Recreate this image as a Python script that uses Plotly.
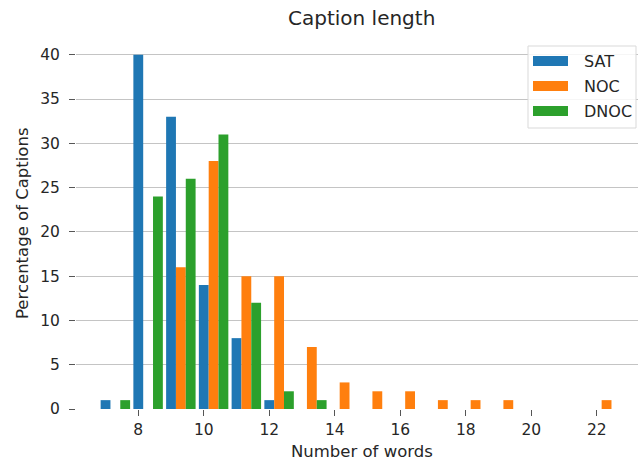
import plotly.graph_objects as go

# Data (percent of captions by number of words)
words = list(range(7, 23))
sat = [1, 40, 33, 14, 8, 1, 0, 0, 0, 0, 0, 0, 0, 0, 0, 0]
noc = [0, 0, 16, 28, 15, 15, 7, 3, 2, 2, 1, 1, 1, 0, 0, 1]
dnoc = [1, 24, 26, 31, 12, 2, 1, 0, 0, 0, 0, 0, 0, 0, 0, 0]
series_names = ["SAT", "NOC", "DNOC"]
colors = ["#1f77b4", "#ff7f0e", "#2ca02c"]
x_ticks = [8, 10, 12, 14, 16, 18, 20, 22]
y_ticks = [0, 5, 10, 15, 20, 25, 30, 35, 40]

W, H = 638, 464
L, R, T, B = 76, 0, 37, 55
FONT = "DejaVu Sans"
TXT = "#262626"

fig = go.Figure()
offsets = [-0.15, 0.15, 0.45]
for name, vals, col, off in zip(series_names, [sat, noc, dnoc], colors, offsets):
    fig.add_trace(go.Bar(
        x=words, y=vals, name=name, marker=dict(color=col, line=dict(width=0)),
        width=0.3, offset=off, showlegend=False,
    ))

def px(xp):
    return (xp - L) / (W - L - R)

def py(yp):
    return (H - B - yp) / (H - T - B)

shapes = []
annotations = []
# manual legend, matplotlib-style
shapes.append(dict(type="rect", xref="paper", yref="paper",
                   x0=px(528), x1=px(636), y0=py(128), y1=py(46),
                   line=dict(color="#d9d9d9", width=1), fillcolor="rgba(255,255,255,0.85)", layer="above"))
centers = [61, 86, 111]
for name, col, cy in zip(series_names, colors, centers):
    shapes.append(dict(type="rect", xref="paper", yref="paper",
                       x0=px(533), x1=px(568), y0=py(cy + 5), y1=py(cy - 5),
                       line=dict(width=0), fillcolor=col, layer="above"))
    annotations.append(dict(text=name, xref="paper", yref="paper", x=px(582), y=py(cy),
                            xanchor="left", yanchor="middle", showarrow=False,
                            font=dict(family=FONT, size=16, color=TXT)))

# axis titles
annotations.append(dict(text="Number of words", xref="paper", yref="paper", x=px(362), y=py(452),
                        xanchor="center", yanchor="middle", showarrow=False,
                        font=dict(family=FONT, size=16.5, color=TXT)))
annotations.append(dict(text="Percentage of Captions", xref="paper", yref="paper", x=px(22), y=py(223),
                        xanchor="center", yanchor="middle", showarrow=False, textangle=-90,
                        font=dict(family=FONT, size=16.5, color=TXT)))
annotations.append(dict(text="Caption length", xref="paper", yref="paper", x=px(361), y=py(18),
                        xanchor="center", yanchor="middle", showarrow=False,
                        font=dict(family=FONT, size=20, color=TXT)))

fig.update_layout(
    width=W, height=H,
    margin=dict(l=L, r=R, t=T, b=B, pad=0),
    plot_bgcolor="white", paper_bgcolor="white",
    barmode="overlay",
    font=dict(family=FONT, size=15.5, color=TXT),
    shapes=shapes, annotations=annotations,
    xaxis=dict(range=[6.098, 23.26], tickvals=x_ticks, ticks="outside", ticklen=6,
               tickcolor="#555555", tickwidth=1.2, showgrid=False, zeroline=False,
               showline=False, tickfont=dict(family=FONT, size=15.5, color=TXT)),
    yaxis=dict(range=[0, 42], tickvals=y_ticks, ticks="outside", ticklen=6,
               tickcolor="#555555", tickwidth=1.2, showgrid=True, gridcolor="#c4c4c4",
               gridwidth=1.3, zeroline=True, zerolinecolor="rgba(0,0,0,0)", showline=False,
               ticklabelstandoff=6,
               tickfont=dict(family=FONT, size=15.5, color=TXT)),
)

fig.write_html(
    "out.html",
    config={"displayModeBar": False},
    post_script="document.body.style.margin='0';document.body.style.overflow='hidden';",
)
